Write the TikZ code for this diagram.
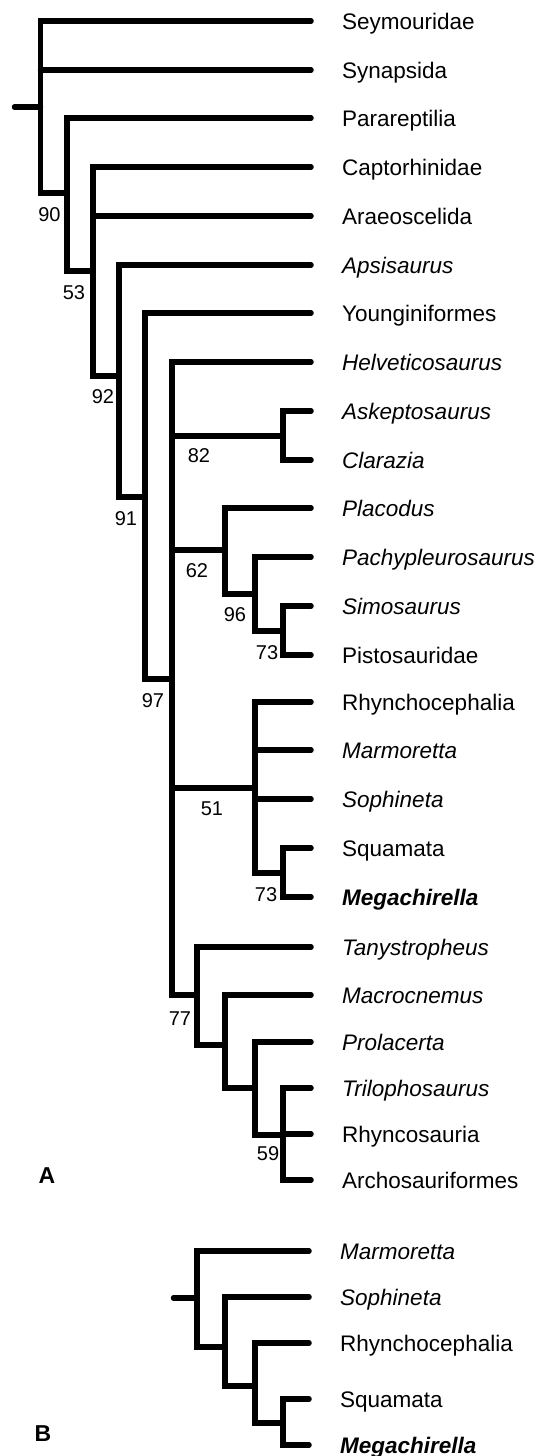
\documentclass[tikz,border=0pt]{standalone}
\usepackage{fontspec}
\setmainfont{Liberation Sans}
\begin{document}
\begin{tikzpicture}[x=1pt,y=-1pt,
  br/.style={line width=5.5pt, line cap=round, line join=miter},
  taxon/.style={anchor=west, inner xsep=31pt, inner ysep=0pt, text height=16pt, text depth=0pt, font=\fontsize{22.5}{26}\selectfont},
  it/.style={font=\fontsize{22.5}{26}\selectfont\itshape},
  bi/.style={font=\fontsize{22.5}{26}\selectfont\bfseries\itshape},
  sup/.style={inner sep=0pt, text height=14.3pt, text depth=0pt, font=\fontsize{20}{24}\selectfont},
  panel/.style={inner sep=0pt, text height=16.5pt, text depth=0pt, font=\fontsize{23}{27}\selectfont\bfseries}]
\useasboundingbox (0,0) rectangle (541,1456);
% ---- panel A taxa
\node[taxon] (L0) at (311,21) {Seymouridae};
\node[taxon] (L1) at (311,70) {Synapsida};
\node[taxon] (L2) at (311,118) {Parareptilia};
\node[taxon] (L3) at (311,167) {Captorhinidae};
\node[taxon] (L4) at (311,216) {Araeoscelida};
\node[taxon,it] (L5) at (311,265) {Apsisaurus};
\node[taxon] (L6) at (311,313) {Younginiformes};
\node[taxon,it] (L7) at (311,362) {Helveticosaurus};
\node[taxon,it] (L8) at (311,411) {Askeptosaurus};
\node[taxon,it] (L9) at (311,460) {Clarazia};
\node[taxon,it] (L10) at (311,508) {Placodus};
\node[taxon,it] (L11) at (311,557) {Pachypleurosaurus};
\node[taxon,it] (L12) at (311,606) {Simosaurus};
\node[taxon] (L13) at (311,655) {Pistosauridae};
\node[taxon] (L14) at (311,702) {Rhynchocephalia};
\node[taxon,it] (L15) at (311,750) {Marmoretta};
\node[taxon,it] (L16) at (311,799) {Sophineta};
\node[taxon] (L17) at (311,848) {Squamata};
\node[taxon,bi] (L18) at (311,897) {Megachirella};
\node[taxon,it] (L19) at (311,947) {Tanystropheus};
\node[taxon,it] (L20) at (311,995) {Macrocnemus};
\node[taxon,it] (L21) at (311,1042) {Prolacerta};
\node[taxon,it] (L22) at (311,1088) {Trilophosaurus};
\node[taxon] (L23) at (311,1134) {Rhyncosauria};
\node[taxon] (L24) at (311,1180) {Archosauriformes};
% ---- panel A internal nodes
\coordinate (rootA) at (14.5,107);
\coordinate (n90) at (40.5,107);
\coordinate (n53) at (67,193);
\coordinate (n92) at (93,271);
\coordinate (n91) at (119,376);
\coordinate (n97) at (145,497);
\coordinate (nX) at (172,679);
\coordinate (n82) at (283,436);
\coordinate (n62) at (225,550);
\coordinate (n96) at (255,594);
\coordinate (n73a) at (283,631);
\coordinate (n51) at (255,788);
\coordinate (n73b) at (283,873);
\coordinate (n77) at (197,995);
\coordinate (nb) at (225,1045);
\coordinate (nc) at (255,1088);
\coordinate (n59) at (283,1135);
% ---- panel A branches
\draw[br] (rootA) -- (n90);
\draw[br] (L0.west) -- (n90 |- L0.west) -- (n90 |- n53) -- (n53);
\draw[br] (n90 |- L1.west) -- (L1.west);
\draw[br] (L2.west) -- (n53 |- L2.west) -- (n53 |- n92) -- (n92);
\draw[br] (L3.west) -- (n92 |- L3.west) -- (n92 |- n91) -- (n91);
\draw[br] (n92 |- L4.west) -- (L4.west);
\draw[br] (L5.west) -- (n91 |- L5.west) -- (n91 |- n97) -- (n97);
\draw[br] (L6.west) -- (n97 |- L6.west) -- (n97 |- nX) -- (nX);
\draw[br] (L7.west) -- (nX |- L7.west) -- (nX |- n77) -- (n77);
\draw[br] (nX |- n82) -- (n82);
\draw[br] (nX |- n62) -- (n62);
\draw[br] (nX |- n51) -- (n51);
\draw[br] (L8.west) -- (n82 |- L8.west) -- (n82 |- L9.west) -- (L9.west);
\draw[br] (L10.west) -- (n62 |- L10.west) -- (n62 |- n96) -- (n96);
\draw[br] (L11.west) -- (n96 |- L11.west) -- (n96 |- n73a) -- (n73a);
\draw[br] (L12.west) -- (n73a |- L12.west) -- (n73a |- L13.west) -- (L13.west);
\draw[br] (L14.west) -- (n51 |- L14.west) -- (n51 |- n73b) -- (n73b);
\draw[br] (n51 |- L15.west) -- (L15.west);
\draw[br] (n51 |- L16.west) -- (L16.west);
\draw[br] (L17.west) -- (n73b |- L17.west) -- (n73b |- L18.west) -- (L18.west);
\draw[br] (L19.west) -- (n77 |- L19.west) -- (n77 |- nb) -- (nb);
\draw[br] (L20.west) -- (nb |- L20.west) -- (nb |- nc) -- (nc);
\draw[br] (L21.west) -- (nc |- L21.west) -- (nc |- n59) -- (n59);
\draw[br] (L22.west) -- (n59 |- L22.west) -- (n59 |- L24.west) -- (L24.west);
\draw[br] (n59 |- L23.west) -- (L23.west);
% ---- panel A support values
\node[sup] (s90) at (49.5,214) {90};
\node[sup] (s53) at (74,292) {53};
\node[sup] (s92) at (103,396) {92};
\node[sup] (s91) at (126,518) {91};
\node[sup] (s97) at (153,700) {97};
\node[sup] (s82) at (199,455) {82};
\node[sup] (s62) at (197,570) {62};
\node[sup] (s96) at (235,614) {96};
\node[sup] (s73a) at (267,652) {73};
\node[sup] (s51) at (212,808) {51};
\node[sup] (s73b) at (266,894) {73};
\node[sup] (s77) at (180,1018) {77};
\node[sup] (s59) at (268,1153) {59};
\node[panel] (pA) at (47,1175) {A};
% ---- panel B taxa
\node[taxon,it] (B0) at (309,1251) {Marmoretta};
\node[taxon,it] (B1) at (309,1297) {Sophineta};
\node[taxon] (B2) at (309,1343) {Rhynchocephalia};
\node[taxon] (B3) at (309,1399) {Squamata};
\node[taxon,bi] (B4) at (309,1445) {Megachirella};
% ---- panel B internal nodes
\coordinate (rootB) at (173.5,1298);
\coordinate (m1) at (197,1298);
\coordinate (m2) at (225,1347);
\coordinate (m3) at (255,1386);
\coordinate (m4) at (283,1423);
\draw[br] (rootB) -- (m1);
\draw[br] (B0.west) -- (m1 |- B0.west) -- (m1 |- m2) -- (m2);
\draw[br] (B1.west) -- (m2 |- B1.west) -- (m2 |- m3) -- (m3);
\draw[br] (B2.west) -- (m3 |- B2.west) -- (m3 |- m4) -- (m4);
\draw[br] (B3.west) -- (m4 |- B3.west) -- (m4 |- B4.west) -- (B4.west);
\node[panel] (pB) at (43,1433) {B};
\end{tikzpicture}
\end{document}
